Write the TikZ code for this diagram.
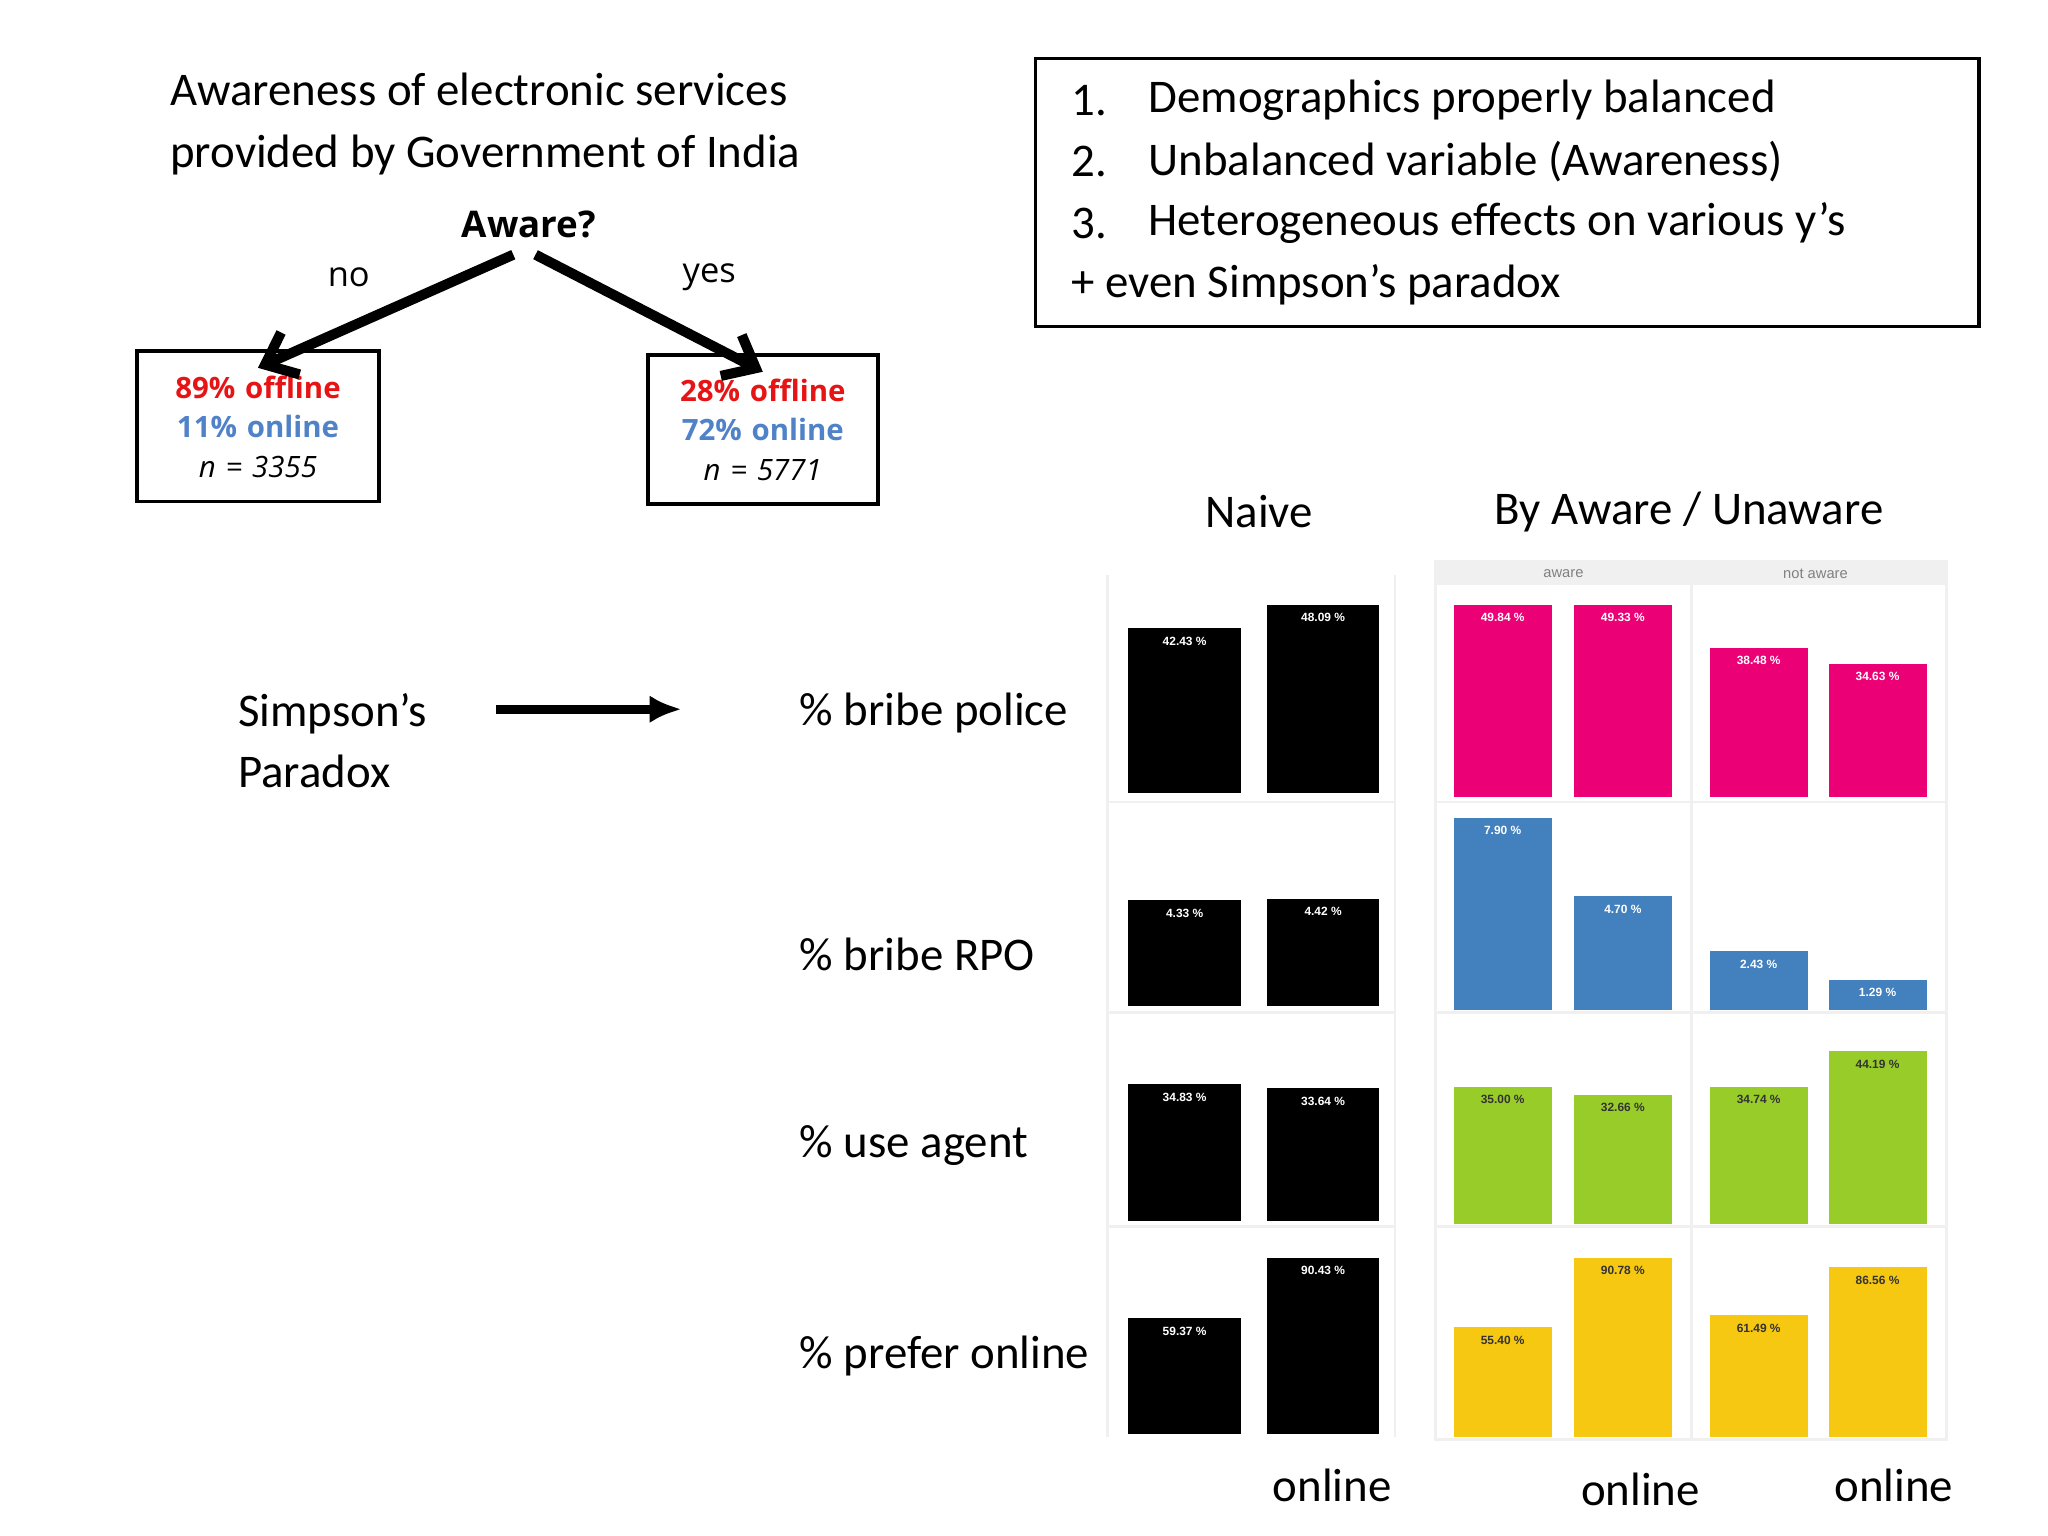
\documentclass[tikz,border=0pt]{standalone}
\usetikzlibrary{arrows.meta}
\usepackage{fontspec}
\setmainfont{Carlito}
\newfontfamily\osans{Open Sans}
\newfontfamily\lsans{Liberation Sans}
\definecolor{cpink}{RGB}{236,0,118}
\definecolor{cblue}{RGB}{66,128,190}
\definecolor{cgreen}{RGB}{152,204,40}
\definecolor{cyel}{RGB}{246,200,18}
\definecolor{cred}{RGB}{230,20,20}
\definecolor{cob}{RGB}{80,130,200}
\begin{document}
\begin{tikzpicture}[x=0.01cm,y=-0.01cm,
  big/.style={font=\fontsize{10.2}{13.4}\selectfont},
  tree/.style={font=\osans\fontsize{6.4}{9.6}\selectfont\bfseries},
  blab/.style={font=\lsans\bfseries\fontsize{2.6}{3}\selectfont,inner sep=0pt},
  grid/.style={draw=gray!12,line width=0.6pt}]
\useasboundingbox (0,0) rectangle (1568,1176);
\fill[white] (0,0) rectangle (1568,1176);
% title
\node[big,align=left,anchor=west] (title) at (118,95) {Awareness of electronic services\\provided by Government of India};
\node[font=\osans\bfseries\fontsize{8}{10}\selectfont] (aware) at (405,172) {Aware?};
\node[tree,draw=black,line width=0.8pt,inner sep=0pt,align=center,text width=1.85cm,minimum height=1.15cm] (bl) at (197.5,326.5)
 {\textcolor{cred}{89\% offline}\\[-1pt]\textcolor{cob}{11\% online}\\[-1pt]{\mdseries\itshape n = 3355}};
\node[tree,draw=black,line width=0.8pt,inner sep=0pt,align=center,text width=1.76cm,minimum height=1.14cm] (br) at (584,329)
 {\textcolor{cred}{28\% offline}\\[-1pt]\textcolor{cob}{72\% online}\\[-1pt]{\mdseries\itshape n = 5771}};
\coordinate (a1) at (393,195); \coordinate (a2) at (410,195);
\draw[line width=2.2pt,-{Straight Barb[length=6pt,width=10pt]}] (a1) -- ([yshift=-4pt]bl.north);
\draw[line width=2.2pt,-{Straight Barb[length=6pt,width=10pt]}] (a2) -- ([yshift=-4pt]br.north);
\node[font=\osans\fontsize{7.5}{9}\selectfont] (no) at (267,212) {no};
\node[font=\osans\fontsize{7.5}{9}\selectfont] (yes) at (543,212) {yes};
% numbered box
\node[draw=black,line width=0.7pt,minimum width=7.22cm,minimum height=2.05cm] (box) at (1154,147.5) {};
\node[big,anchor=west] (l1) at (808,77) {1.}; \node[big,anchor=west] (t1) at (867,77) {Demographics properly balanced};
\node[big,anchor=west] (l2) at (808,124) {2.}; \node[big,anchor=west] (t2) at (867,124) {Unbalanced variable (Awareness)};
\node[big,anchor=west] (l3) at (808,171) {3.}; \node[big,anchor=west] (t3) at (867,171) {Heterogeneous effects on various y’s};
\node[big,anchor=west] (l4) at (808,218) {+ even Simpson’s paradox};
% simpson
\node[big,align=left,anchor=west] (simp) at (170,567) {Simpson’s\\Paradox};
\coordinate (s1) at (380,543); \coordinate (s2) at (522,543);
\draw[line width=2pt,-{Latex[length=7pt,width=6pt]}] (s1) -- (s2);
% row labels
\node[big,anchor=west] (r1) at (600,546) {\% bribe police};
\node[big,anchor=west] (r2) at (600,731) {\% bribe RPO};
\node[big,anchor=west] (r3) at (600,877) {\% use agent};
\node[big,anchor=west] (r4) at (600,1038) {\% prefer online};
\node[big] (naive) at (964,392) {Naive};
\node[big] (bya) at (1293,392) {By Aware / Unaware};
\node[big] (o1) at (1020,1137) {online};
\node[big] (o2) at (1256,1140) {online};
\node[big] (o3) at (1450,1137) {online};
% panels
\draw[grid] (848,440) -- (848,1100) (1068,440) -- (1068,1100);
\foreach \y in {614,775,939} {\draw[grid] (848,\y) -- (1068,\y); \draw[grid] (1099,\y) -- (1490,\y);}
\draw[grid] (1099,430) rectangle (1490,1102);
\draw[grid] (1295,430) -- (1295,1102);
\fill[gray!12] (1099,430) rectangle (1490,448);
\node[font=\lsans\fontsize{3.2}{4}\selectfont,text=gray] (sa) at (1197,439) {aware};
\node[font=\lsans\fontsize{3.2}{4}\selectfont,text=gray] (sn) at (1390,439) {not aware};
\newcommand{\mybar}[7]{\fill[#5] (#1,#3) rectangle (#2,#4);
  \node[blab,text=#7] at ({(#1+#2)/2},#3+10) {#6};}
% naive
\mybar{864}{950}{481}{607}{black}{42.43 \%}{white}
\mybar{970}{1056}{463}{607}{black}{48.09 \%}{white}
\mybar{864}{950}{689}{770}{black}{4.33 \%}{white}
\mybar{970}{1056}{688}{770}{black}{4.42 \%}{white}
\mybar{864}{950}{830}{935}{black}{34.83 \%}{white}
\mybar{970}{1056}{833}{935}{black}{33.64 \%}{white}
\mybar{864}{950}{1009}{1098}{black}{59.37 \%}{white}
\mybar{970}{1056}{963}{1098}{black}{90.43 \%}{white}
% colored
\mybar{1113}{1188}{463}{610}{cpink}{49.84 \%}{white}
\mybar{1205}{1280}{463}{610}{cpink}{49.33 \%}{white}
\mybar{1309}{1384}{496}{610}{cpink}{38.48 \%}{white}
\mybar{1400}{1475}{508}{610}{cpink}{34.63 \%}{white}
\mybar{1113}{1188}{626}{773}{cblue}{7.90 \%}{white}
\mybar{1205}{1280}{686}{773}{cblue}{4.70 \%}{white}
\mybar{1309}{1384}{728}{773}{cblue}{2.43 \%}{white}
\mybar{1400}{1475}{750}{773}{cblue}{1.29 \%}{white}
\mybar{1113}{1188}{832}{937}{cgreen}{35.00 \%}{black!80}
\mybar{1205}{1280}{838}{937}{cgreen}{32.66 \%}{black!80}
\mybar{1309}{1384}{832}{937}{cgreen}{34.74 \%}{black!80}
\mybar{1400}{1475}{805}{937}{cgreen}{44.19 \%}{black!80}
\mybar{1113}{1188}{1016}{1100}{cyel}{55.40 \%}{black!80}
\mybar{1205}{1280}{963}{1100}{cyel}{90.78 \%}{black!80}
\mybar{1309}{1384}{1007}{1100}{cyel}{61.49 \%}{black!80}
\mybar{1400}{1475}{970}{1100}{cyel}{86.56 \%}{black!80}
\end{tikzpicture}
\end{document}
